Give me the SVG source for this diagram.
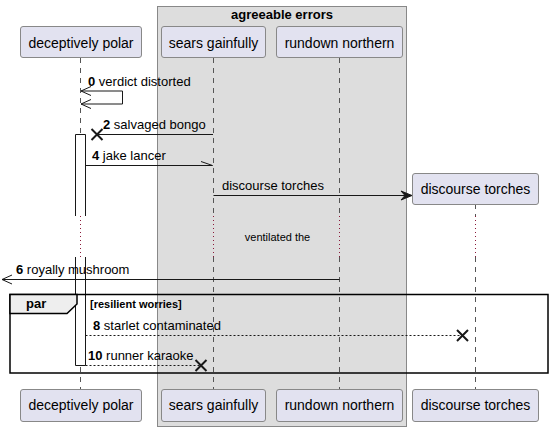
<svg xmlns="http://www.w3.org/2000/svg" width="553" height="431" viewBox="0 0 553 431">
<style>
text{font-family:"Liberation Sans",Arial,sans-serif;fill:#000}
.pbox{fill:#E2E2F0;stroke:#888888;stroke-width:1}
.ptxt{font-size:14px;text-anchor:middle}
.life{stroke:#555555;stroke-width:1;stroke-dasharray:5,5;fill:none}
.delay{stroke:#8B1A3A;stroke-width:1;stroke-dasharray:1,3;fill:none}
.msg{stroke:#181818;stroke-width:1;fill:none}
.dash{stroke:#181818;stroke-width:1;stroke-dasharray:2,2;fill:none}
.mt{font-size:13px}
.num{font-weight:bold}
.xm{stroke:#181818;stroke-width:2;fill:none}
.act{fill:#FFFFFF;stroke:none}
.actl{stroke:#181818;stroke-width:1;fill:none}
</style>
<rect width="553" height="431" fill="#FFFFFF"/>
<g id="group-agreeable-errors">
<rect x="157.5" y="6.5" width="249" height="420" fill="#DDDDDD" stroke="#888888" stroke-width="1"/>
<text x="282" y="19" font-size="13" font-weight="bold" text-anchor="middle">agreeable errors</text>
</g>
<g id="lifelines">
<path class="life" d="M80.5,58 V216 M80.5,257 V389"/>
<path class="delay" d="M80.5,216 V257"/>
<path class="life" d="M213.5,58 V216 M213.5,257 V389"/>
<path class="delay" d="M213.5,216 V257"/>
<path class="life" d="M339.5,58 V216 M339.5,257 V389"/>
<path class="delay" d="M339.5,216 V257"/>
<path class="life" d="M475.5,204 V216 M475.5,257 V389"/>
<path class="delay" d="M475.5,216 V257"/>
</g>
<g id="activation">
<rect class="act" x="75.5" y="134.5" width="10" height="81.5"/>
<path class="actl" d="M75.5,216 V134.5 H85.5 V216"/>
<rect class="act" x="75.5" y="257" width="10" height="108"/>
<path class="actl" d="M75.5,257 V365.5 H85.5 V257"/>
</g>
<g id="p-deceptively-polar">
<rect class="pbox" x="20.5" y="26.5" width="121" height="31" rx="2.5"/>
<text class="ptxt" x="81" y="47.5">deceptively polar</text>
<rect class="pbox" x="20.5" y="389.5" width="121" height="32" rx="2.5"/>
<text class="ptxt" x="81" y="410">deceptively polar</text>
</g>
<g id="p-sears-gainfully">
<rect class="pbox" x="161.5" y="26.5" width="104" height="31" rx="2.5"/>
<text class="ptxt" x="213.5" y="47.5">sears gainfully</text>
<rect class="pbox" x="161.5" y="389.5" width="104" height="32" rx="2.5"/>
<text class="ptxt" x="213.5" y="410">sears gainfully</text>
</g>
<g id="p-rundown-northern">
<rect class="pbox" x="276.5" y="26.5" width="126" height="31" rx="2.5"/>
<text class="ptxt" x="339.5" y="47.5">rundown northern</text>
<rect class="pbox" x="276.5" y="389.5" width="126" height="32" rx="2.5"/>
<text class="ptxt" x="339.5" y="410">rundown northern</text>
</g>
<g id="p-discourse-torches">
<rect class="pbox" x="412.5" y="173.5" width="126" height="31" rx="2.5"/>
<text class="ptxt" x="475.5" y="194">discourse torches</text>
<rect class="pbox" x="412.5" y="389.5" width="126" height="32" rx="2.5"/>
<text class="ptxt" x="475.5" y="410">discourse torches</text>
</g>
<g id="connectors">
<path class="msg" d="M81,91 H122.5 V104 H81"/>
<path class="msg" d="M91,86.5 L81,91 L91,95.5 M91,99.5 L81,104 L91,108.5"/>
<text class="mt" x="88" y="86"><tspan class="num">0</tspan> verdict distorted</text>
<path class="msg" d="M213,134.5 H97"/>
<path class="xm" d="M91.5,129 L102.5,140 M102.5,129 L91.5,140"/>
<text class="mt" x="103" y="129"><tspan class="num">2</tspan> salvaged bongo</text>
<path class="msg" d="M85.5,165.5 H212.5 M201,161.5 L212.5,165.5"/>
<text class="mt" x="92" y="160"><tspan class="num">4</tspan> jake lancer</text>
<path class="msg" d="M213.5,195.5 H410"/>
<polygon points="412,195.5 401,191 405,195.5 401,200" fill="#181818" stroke="#181818" stroke-width="1"/>
<text class="mt" x="222" y="190">discourse torches</text>
<text x="277.5" y="241" font-size="11" text-anchor="middle">ventilated the</text>
<path class="msg" d="M339.5,279.5 H2 M12,275 L2,279.5 L12,284"/>
<text class="mt" x="16" y="274"><tspan class="num">6</tspan> royally mushroom</text>
<path class="dash" d="M85.5,335.5 H462"/>
<path class="xm" d="M457,330 L468,341 M468,330 L457,341"/>
<text class="mt" x="93" y="330"><tspan class="num">8</tspan> starlet contaminated</text>
<path class="dash" d="M85.5,365.5 H200"/>
<path class="xm" d="M195.5,360 L206.5,371 M206.5,360 L195.5,371"/>
<text class="mt" x="88" y="360"><tspan class="num">10</tspan> runner karaoke</text>
</g>
<g id="par-frame">
<rect x="10" y="294.5" width="538" height="78.5" fill="none" stroke="#000000" stroke-width="1.5"/>
<path d="M10,294.5 H77 V304 L67,313.5 H10 Z" fill="#EEEEEE" stroke="#000000" stroke-width="1.5"/>
<text x="26" y="308" font-size="13" font-weight="bold">par</text>
<text x="90" y="308" font-size="11" font-weight="bold">[resilient worries]</text>
</g>
</svg>
